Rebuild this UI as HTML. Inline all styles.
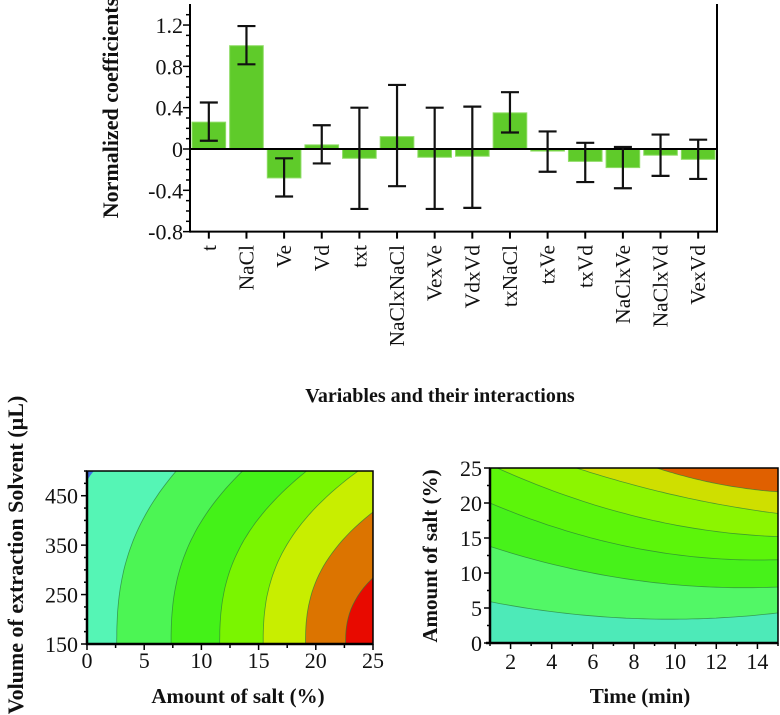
<!DOCTYPE html>
<html><head><meta charset="utf-8"><style>
html,body{margin:0;padding:0;background:#fff;}
svg{display:block;font-family:"Liberation Serif",serif;}
</style></head><body>
<svg id="fig" width="780" height="715" viewBox="0 0 780 715" xmlns="http://www.w3.org/2000/svg">
<defs>
<clipPath id="clipL"><rect x="87" y="471" width="286" height="173"/></clipPath>
<clipPath id="clipR"><rect x="490" y="468" width="288" height="175"/></clipPath>
</defs>
<g id="bar"></g>
<g id="left"></g>
<g id="right"></g>
</svg>
<script>
// ---- bar chart data ----
const categories = ["t","NaCl","Ve","Vd","txt","NaClxNaCl","VexVe","VdxVd","txNaCl","txVe","txVd","NaClxVe","NaClxVd","VexVd"];
const coefValues = [0.26,1.0,-0.28,0.04,-0.09,0.12,-0.08,-0.07,0.35,-0.02,-0.12,-0.18,-0.06,-0.10];
const errLow = [0.08,0.82,-0.46,-0.14,-0.58,-0.36,-0.58,-0.57,0.16,-0.22,-0.32,-0.38,-0.26,-0.29];
const errHigh = [0.45,1.19,-0.09,0.23,0.40,0.62,0.40,0.41,0.55,0.17,0.06,0.02,0.14,0.09];
const yTicks = [1.2,0.8,0.4,0,-0.4,-0.8];
// ---- left contour: boundaries (salt % at V=150, salt % at V=500) ----
const leftBottom = [2.6,7.35,11.6,15.4,19.1,22.6];
const leftTop = [7.8,13.6,19.2,23.7,30.7,49];
const leftColors = ["#55f5b5","#4cf554","#44f218","#7af500","#c8ee00","#dc7400","#e80a00"];
const leftXTicks = [0,5,10,15,20,25];
const leftYTicks = [150,250,350,450];
// ---- right contour: boundaries as knots [time, salt%] ----
const rightCurves = [
  [[1,5.9],[8,3.5],[15,4.3]],
  [[1,13.8],[8,9.0],[15,8.0]],
  [[1,20.0],[8,13.6],[15,11.9]],
  [[1.36,25],[7.8,18.3],[15,15.2]],
  [[5.2,25],[11.8,20.0],[15,18.5]],
  [[9.1,25],[11.8,22.9],[15,21.6]]
];
const rightColors = ["#4deab8","#52f766","#47f21a","#5cf50a","#8cf500","#cfdf00","#e06000"];
const rightXTicks = [2,4,6,8,10,12,14];
const rightYTicks = [0,5,10,15,20,25];

const NS="http://www.w3.org/2000/svg";
function mk(parent,tag,attrs,text){const e=document.createElementNS(NS,tag);for(const k in attrs)e.setAttribute(k,attrs[k]);if(text!==undefined)e.textContent=text;parent.appendChild(e);return e;}

// ===== BAR CHART =====
(function(){
const g=document.getElementById('bar');
const X0=190,X1=717,yTop=4;
const y=v=>149-v*103.3;
const slot=(X1-X0)/categories.length;
const cx=i=>X0+slot*(i+0.5);
categories.forEach((c,i)=>{
  const v=coefValues[i];
  const r=mk(g,'rect',{x:cx(i)-slot/2+2,y:Math.min(y(v),y(0)),width:slot-4,height:Math.max(1,Math.abs(y(v)-y(0))),fill:'#5fcb2a',stroke:'#8fdc66','stroke-width':1});
  
  
});
mk(g,'line',{x1:X0,x2:X1,y1:y(0),y2:y(0),stroke:'#000','stroke-width':2});
categories.forEach((c,i)=>{
  const eg=mk(g,'g',{stroke:'#111','stroke-width':2.2});
  
  
  const x=cx(i);
  mk(eg,'line',{x1:x,x2:x,y1:y(errLow[i]),y2:y(errHigh[i])});
  mk(eg,'line',{x1:x-9,x2:x+9,y1:y(errLow[i]),y2:y(errLow[i])});
  mk(eg,'line',{x1:x-9,x2:x+9,y1:y(errHigh[i]),y2:y(errHigh[i])});
});
const ax=mk(g,'g',{stroke:'#000','stroke-width':2});


mk(ax,'line',{x1:X0,x2:X0,y1:yTop,y2:y(-0.8)+1});
mk(ax,'line',{x1:X1,x2:X1,y1:yTop,y2:y(-0.8)+1});
mk(ax,'line',{x1:X0,x2:X1,y1:y(-0.8),y2:y(-0.8)});
for(let k=-8;k<=13;k++){const v=k/10;const major=Math.abs(Math.round(k)%4)===0;mk(ax,'line',{x1:X0-(major?7:4),x2:X0,y1:y(v),y2:y(v),'stroke-width':1.5});}
categories.forEach((c,i)=>{mk(ax,'line',{x1:cx(i),x2:cx(i),y1:y(-0.8),y2:y(-0.8)+7});});
yTicks.forEach(v=>{
  const t=mk(g,'text',{x:183,y:y(v)+8,'text-anchor':'end','font-size':22,fill:'#111'},v===0?'0':v.toFixed(1));
  
  
});
categories.forEach((c,i)=>{
  const t=mk(g,'text',{x:0,y:0,'text-anchor':'end','font-size':21.5,fill:'#111',transform:`translate(${cx(i)+7},245) rotate(-90)`},c);
  
  
});
const yt=mk(g,'text',{x:0,y:0,'text-anchor':'middle','font-size':22,'font-weight':'bold',fill:'#111',transform:'translate(118,108) rotate(-90)'},'Normalized  coefficients');


const xt=mk(g,'text',{x:440,y:402,'text-anchor':'middle','font-size':20,'font-weight':'bold',fill:'#111'},'Variables and their interactions');


})();

// ===== LEFT CONTOUR =====
(function(){
const g=document.getElementById('left');
const L=87,R=373,T=471,B=644;
const sx=s=>L+(s/25)*(R-L);
const vy=v=>B-(v-150)/350*(B-T);
const cg=mk(g,'g',{'clip-path':'url(#clipL)'});
mk(cg,'rect',{x:L,y:T,width:R-L,height:B-T,fill:leftColors[0]});
leftBottom.forEach((b,i)=>{
  let d='';
  for(let k=0;k<=40;k++){const t=k/40;const v=150+350*t;const s=b+(leftTop[i]-b)*Math.pow(t,2.5);d+=(k?'L':'M')+sx(s).toFixed(1)+','+vy(v).toFixed(1);}
  const fill=d+`L${R+400},${T-5}L${R+400},${B+5}Z`;
  const p=mk(cg,'path',{d:fill,fill:leftColors[i+1]});
  
  
  mk(cg,'path',{d:d,fill:'none',stroke:'#2a7a3a','stroke-width':0.8,'stroke-opacity':0.7});
});
mk(cg,'path',{d:`M${L},${T}L${L+7},${T}Q${L+3},${T+4} ${L},${T+10}Z`,fill:'#3a6fe0'});
const ax=mk(g,'g',{stroke:'#000','stroke-width':2,fill:'none'});


mk(ax,'rect',{x:L,y:T,width:R-L,height:B-T,'stroke-width':1.5});
mk(ax,'line',{x1:L,x2:L,y1:T,y2:B+1,'stroke-width':2.5});
mk(ax,'line',{x1:L-1,x2:R,y1:B,y2:B,'stroke-width':2.5});
for(let s=0;s<=25;s+=2.5){mk(ax,'line',{x1:sx(s),x2:sx(s),y1:B,y2:B+(s%5===0?6:4),'stroke-width':1.5});}
for(let v=150;v<=500;v+=25){mk(ax,'line',{x1:L-(v%100===50?6:3),x2:L,y1:vy(v),y2:vy(v),'stroke-width':1.5});}
leftXTicks.forEach(s=>{const t=mk(g,'text',{x:sx(s),y:668,'text-anchor':'middle','font-size':22,fill:'#111'},s);});
leftYTicks.forEach(v=>{const t=mk(g,'text',{x:78,y:vy(v)+8,'text-anchor':'end','font-size':22,fill:'#111'},v);});
const xt=mk(g,'text',{x:238,y:703,'text-anchor':'middle','font-size':21,'font-weight':'bold',fill:'#111'},'Amount of salt (%)');


const yt=mk(g,'text',{x:0,y:0,'text-anchor':'middle','font-size':22,'font-weight':'bold',fill:'#111',transform:'translate(23,555) rotate(-90)'},'Volume of extraction Solvent (µL)');


})();

// ===== RIGHT CONTOUR =====
(function(){
const g=document.getElementById('right');
const L=490,R=778,T=468,B=643;
const tx=t=>L+(t-1)/14*(R-L);
const sy=s=>B-s/25*(B-T);
function interp(kn,t){let r=0;for(let i=0;i<3;i++){let w=1;for(let j=0;j<3;j++)if(j!==i)w*=(t-kn[j][0])/(kn[i][0]-kn[j][0]);r+=w*kn[i][1];}return r;}
const cg=mk(g,'g',{'clip-path':'url(#clipR)'});
mk(cg,'rect',{x:L,y:T,width:R-L,height:B-T,fill:rightColors[0]});
rightCurves.forEach((kn,i)=>{
  let d='';const t0=kn[0][0]-0.4;
  for(let k=0;k<=50;k++){const t=t0+(15.2-t0)*k/50;d+=(k?'L':'M')+tx(t).toFixed(1)+','+sy(interp(kn,t)).toFixed(1);}
  const fill=d+`L${R+5},${T-200}L${tx(t0)},${T-200}Z`;
  const p=mk(cg,'path',{d:fill,fill:rightColors[i+1]});
  
  
  mk(cg,'path',{d:d,fill:'none',stroke:'#2a7a3a','stroke-width':0.8,'stroke-opacity':0.7});
});
const ax=mk(g,'g',{stroke:'#000','stroke-width':2,fill:'none'});


mk(ax,'rect',{x:L,y:T,width:R-L,height:B-T,'stroke-width':1.5});
mk(ax,'line',{x1:L,x2:L,y1:T,y2:B+1,'stroke-width':2.5});
mk(ax,'line',{x1:L-4,x2:R,y1:B,y2:B,'stroke-width':2.5});
for(let t=1;t<=15;t+=1){mk(ax,'line',{x1:tx(t),x2:tx(t),y1:B,y2:B+(t%2===0?6:3),'stroke-width':1.5});}
for(let s=0;s<=25;s+=2.5){mk(ax,'line',{x1:L-(s%5===0?6:3),x2:L,y1:sy(s),y2:sy(s),'stroke-width':1.5});}
rightXTicks.forEach(t=>{const e=mk(g,'text',{x:tx(t),y:669,'text-anchor':'middle','font-size':22,fill:'#111'},t);});
rightYTicks.forEach(s=>{const e=mk(g,'text',{x:482,y:sy(s)+8,'text-anchor':'end','font-size':22,fill:'#111'},s);});
const xt=mk(g,'text',{x:640,y:703,'text-anchor':'middle','font-size':21,'font-weight':'bold',fill:'#111'},'Time (min)');


const yt=mk(g,'text',{x:0,y:0,'text-anchor':'middle','font-size':21,'font-weight':'bold',fill:'#111',transform:'translate(437,556) rotate(-90)'},'Amount of salt (%)');


})();
</script>
</body></html>
